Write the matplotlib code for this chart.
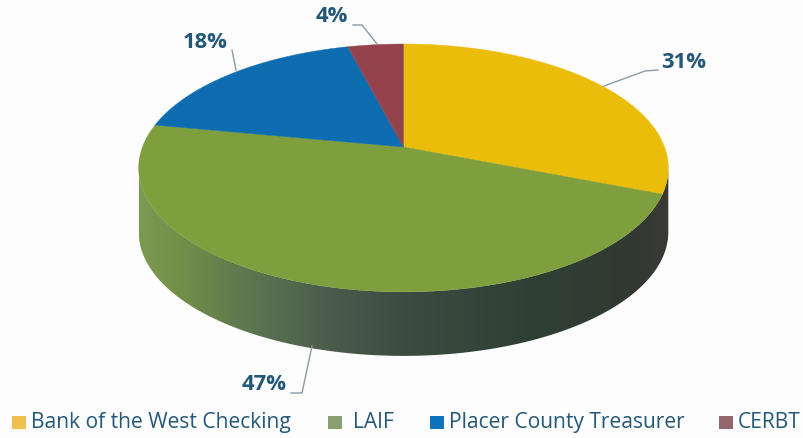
#!/usr/bin/env python3
import matplotlib
matplotlib.use('Agg')
import matplotlib.pyplot as plt
from matplotlib.colors import LinearSegmentedColormap
from matplotlib.patches import Polygon, Rectangle
import numpy as np

categories = ['Bank of the West Checking', 'LAIF', 'Placer County Treasurer', 'CERBT']
shares = [31, 47, 18, 4]
colors = ['#EBBD0B', '#7F9E3E', '#0D6DB0', '#94424B']
legend_colors = ['#F0C04F', '#8A9E72', '#0F72BC', '#96666F']
text_color = '#235878'

# pixel geometry of the tilted pie
cx, cy = 403.5, 147
a, b, k = 261, 120.4, 0.169
depth = 64

label_pos = [(684, 63), (264, 385), (205, 42), (332, 17)]
leaders = [
    [(604, 86), (645, 71), (658, 70)],
    [(312, 346), (302, 393), (291, 393)],
    [(236, 70), (232, 50)],
    [(377, 44), (362, 25), (353, 25)],
]
legend_x = [12, 328, 430, 719]
legend_text_x = [31, 353, 449, 738]


def project(theta):
    # circle seen in perspective, the front is nearer than the back
    x, y = np.cos(theta), np.sin(theta)
    w = 1 + k * y
    return cx + a * x / w, cy - b * y / w


fig = plt.figure(figsize=(8.04, 4.38), dpi=100, facecolor='#FDFDFD')
ax = fig.add_axes([0, 0, 1, 1])
ax.set_xlim(0, 804)
ax.set_ylim(438, 0)
ax.axis('off')

# side wall
t = np.linspace(0, 2 * np.pi, 721)
rx, ry = project(t)
left, right = np.argmin(rx), np.argmax(rx)
front = np.arange(left, right + 1) if left < right else np.r_[left:len(t), 0:right + 1]
wall_pts = np.r_[np.c_[rx[front], ry[front]],
                 np.c_[rx[front][::-1], ry[front][::-1] + depth]]
wall = Polygon(wall_pts, closed=True, fc='none', ec='none')
ax.add_patch(wall)
wall_cmap = LinearSegmentedColormap.from_list('wall', [
    (0.00, '#7C9A52'), (0.08, '#728F48'), (0.22, '#5C7350'), (0.36, '#4B5C4C'),
    (0.50, '#3D4C42'), (0.75, '#2F3F34'), (0.93, '#323A32'), (1.00, '#3A3935'),
])
img = ax.imshow(np.linspace(0, 1, 256)[None, :], cmap=wall_cmap, aspect='auto',
                extent=[rx.min(), rx.max(), 438, 0], zorder=1)
img.set_clip_path(wall)
ax.set_xlim(0, 804)
ax.set_ylim(438, 0)

# top face, clockwise from twelve o'clock
edges = np.pi / 2 - 2 * np.pi * np.cumsum([0] + shares) / sum(shares)
for i, c in enumerate(colors):
    th = np.linspace(edges[i], edges[i + 1], 200)
    sx, sy = project(th)
    pts = np.r_[[[cx, cy]], np.c_[sx, sy]]
    ax.add_patch(Polygon(pts, closed=True, fc=c, ec=c, lw=0.3, zorder=2))

# labels and leader lines
for s, pos, line in zip(shares, label_pos, leaders):
    ax.text(pos[0], pos[1], f'{s}%', color=text_color, fontsize=15.8,
            fontweight='bold', family='Open Sans', ha='center', va='center', zorder=4)
    xs, ys = zip(*line)
    ax.plot(xs, ys, color='#8A9AA5', lw=1.0, zorder=3)

# legend
for name, c, sx, tx in zip(categories, legend_colors, legend_x, legend_text_x):
    ax.add_patch(Rectangle((sx, 416), 14, 13, fc=c, ec='none', zorder=3))
    ax.text(tx, 422.5, name, color=text_color, fontsize=15.1, family='Open Sans',
            ha='left', va='center', zorder=4)

fig.savefig('out.png', dpi=100, facecolor=fig.get_facecolor())
